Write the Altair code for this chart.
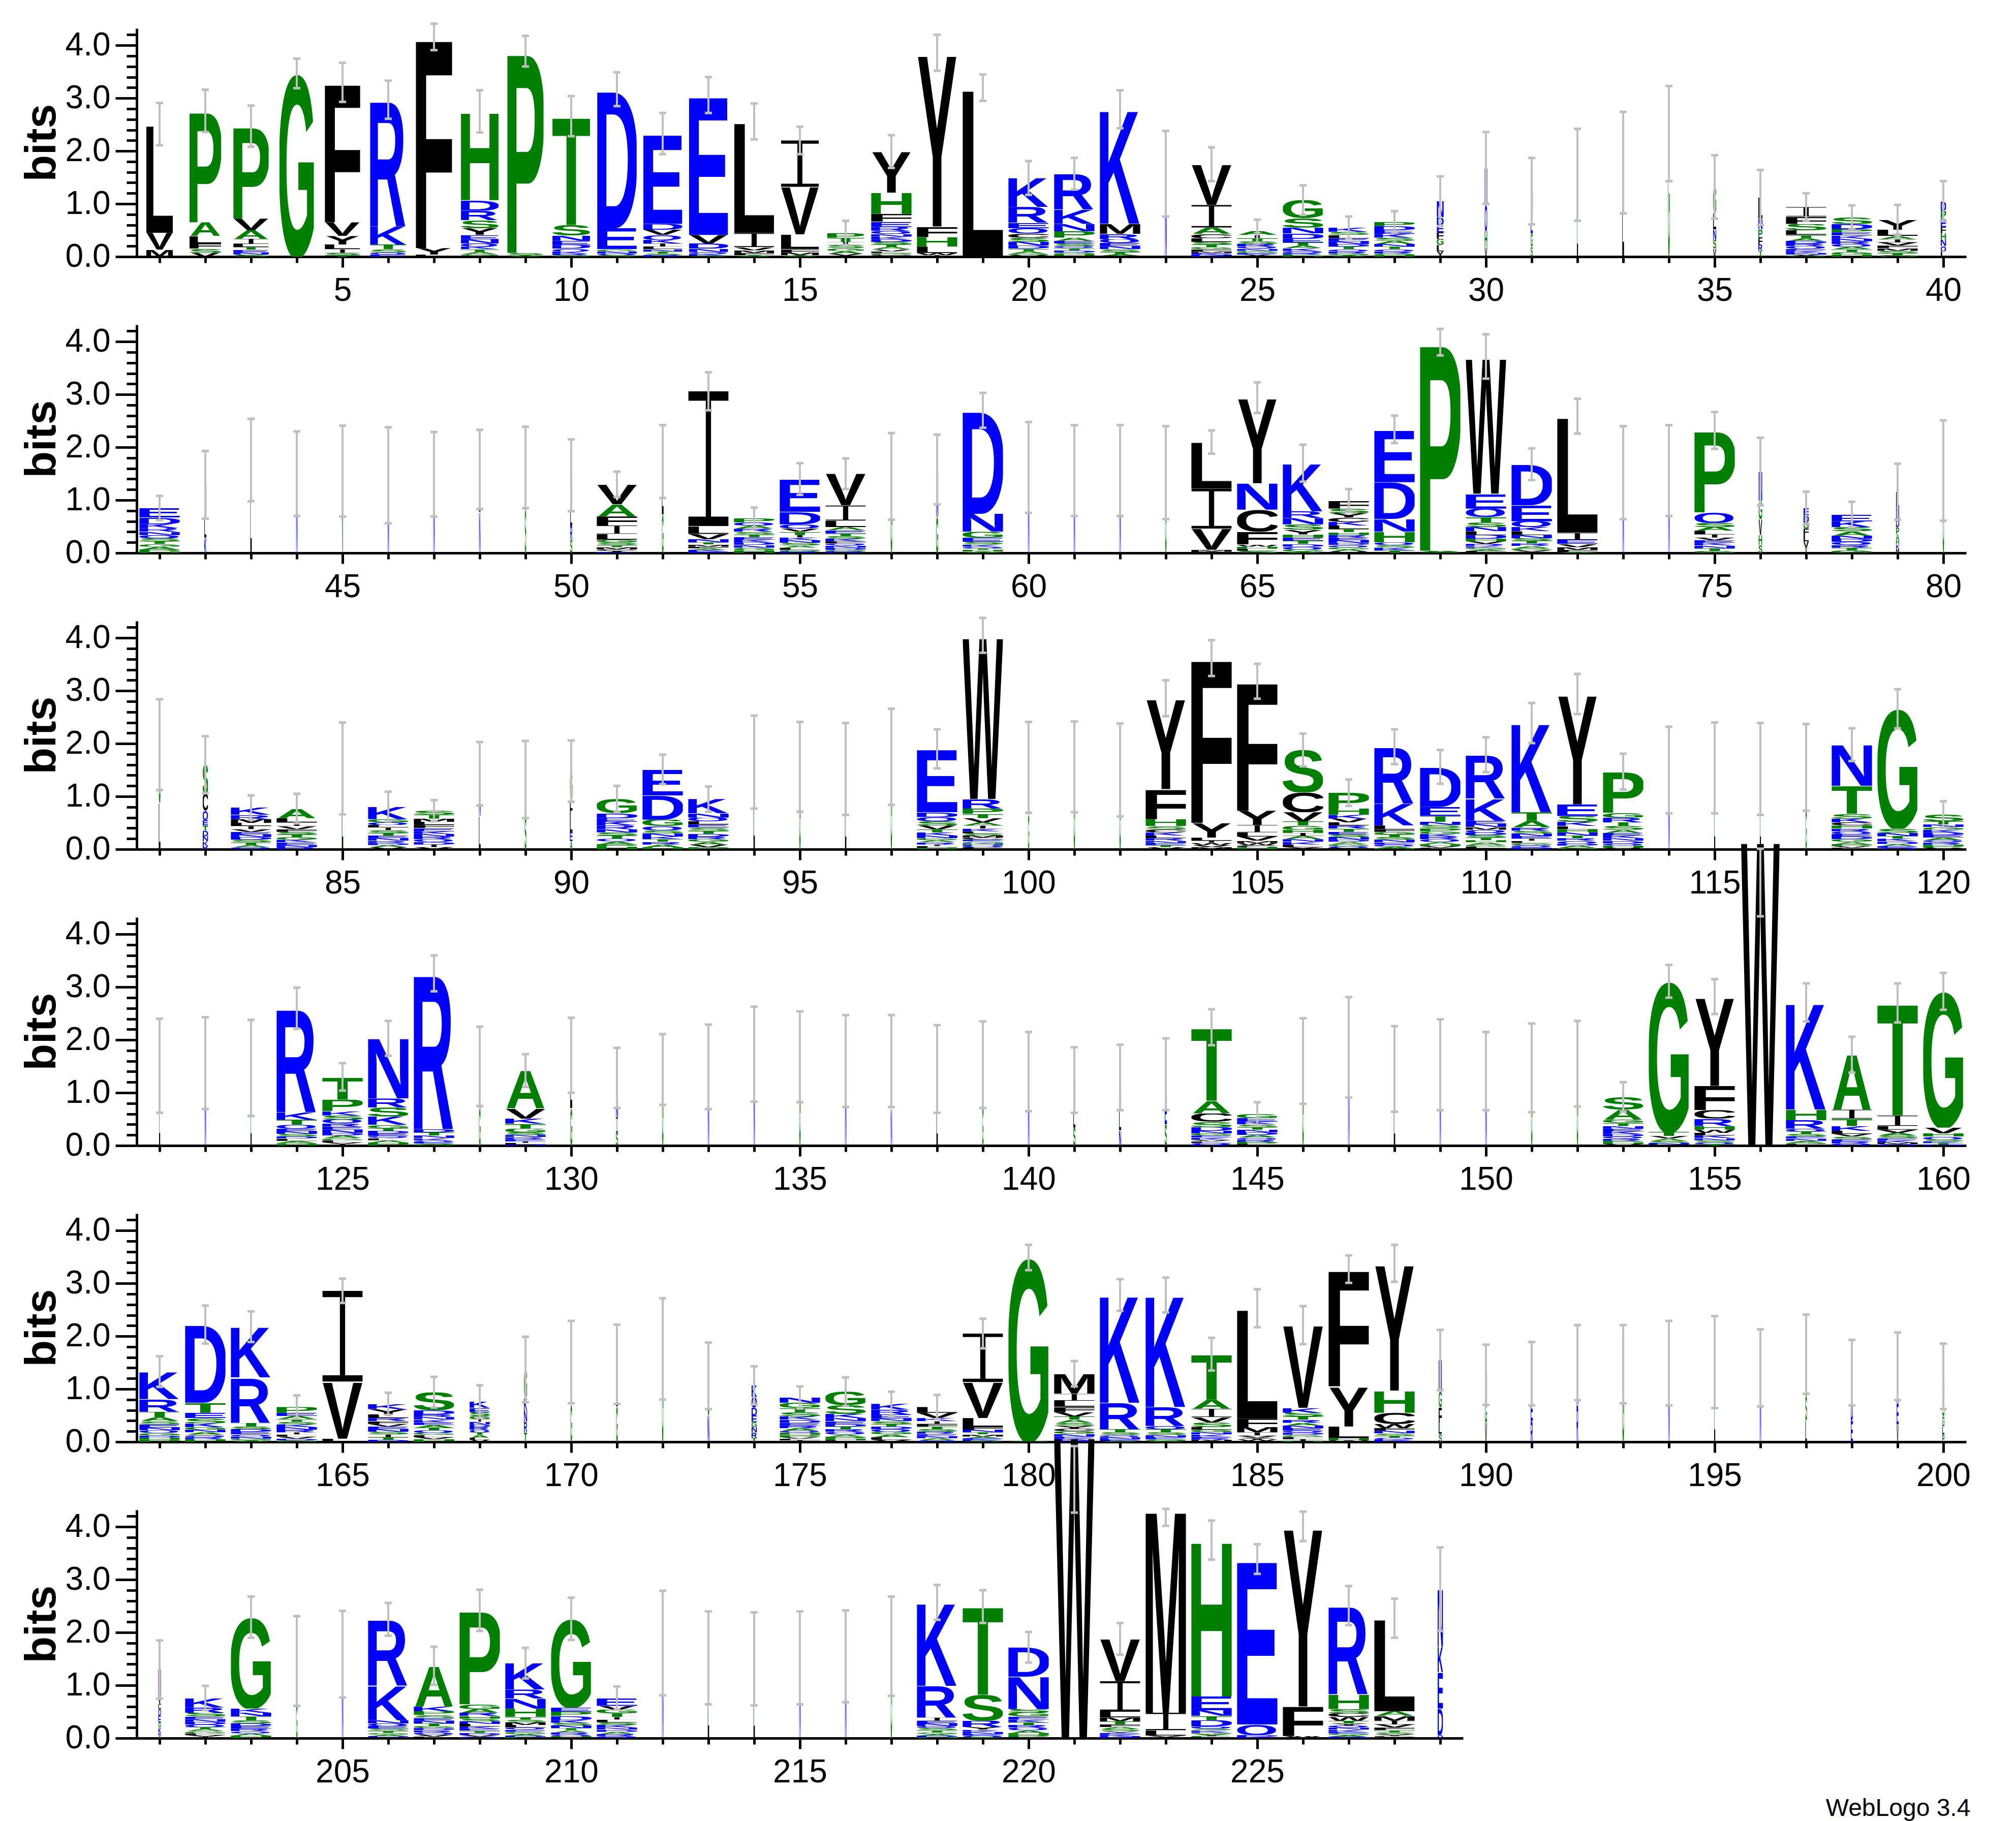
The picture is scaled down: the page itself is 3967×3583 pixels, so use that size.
import altair as alt
import pandas as pd
from urllib.parse import quote

# ---------------- data read from the reference logo ----------------
# each entry: letters of one column, top to bottom, with their heights in bits
STACKS_1 = [
    "L2.06 V.32 M.13", "P2.11 A.26 L.14 F.1 S.08 V.07", "P1.75 V.22 A.16 I.1 L.06 T.05 E.05 N.04 S.04",
    "G3.47", "F2.65 V.26 Y.16 L.09 I.07 S.04 T.03", "R2.4 K.34 T.09 S.06 Q.04 E.04", "F4.0 Y.12 L.04",
    "H1.68 D.2 R.18 S.15 Y.13 E.08 N.08 Q.06 K.05 T.05 A.04 G.03 V.02", "P3.82 S.04 A.03",
    "T2.06 S.2 N.1 E.08 D.07 Q.05 K.04 R.03 G.03", "D2.63 E.4 G.04 N.04 Q.03 S.03",
    "E1.71 D.11 V.1 Q.09 K.07 I.06 L.05 N.04 T.04 S.03 R.03", "E2.65 V.16 D.1 N.06 Q.04 K.03 S.02",
    "L2.11 I.27 V.06 M.05 F.04 A.03", "I.88 V.9 L.28 F.06 M.05 A.03", "P.09 T.08 I.06 S.06 G.05 A.05 V.04 L.02",
    "Y.78 H.4 F.15 E.1 R.07 Q.06 N.05 K.05 D.05 S.05 T.05 A.04 V.04 L.03 G.03 C.02 W.02",
    "Y3.29 F.2 H.18 L.12 W.04 I.03", "L3.2", "K.55 R.3 E.1 Q.1 C.08 S.08 N.07 D.06 T.05 A.04 G.03 V.03",
    "R.68 K.27 N.14 P.12 A.06 E.05 S.05 Q.04 T.04 D.04 G.03 H.03 I.02",
    "K2.17 M.19 R.1 Q.07 E.06 N.06 S.05 T.04 A.03 L.02", "N1.57",
    "V.77 I.43 A.12 C.08 L.07 S.05 T.05 G.04 F.04 M.03 E.03 N.02 K.02",
    "A.07 I.06 T.06 S.05 R.05 Q.04 N.04 G.04 E.03 V.02 L.02",
    "G.34 S.18 N.11 D.1 E.07 T.06 A.05 K.05 Q.04 R.03 P.02 H.02",
    "K.08 S.06 L.06 E.06 N.05 D.05 T.05 Q.04 R.04 G.03 A.03",
    "P.08 D.08 E.07 K.07 S.06 A.06 N.05 T.05 Q.04 R.04 G.03 H.03",
    "N.3 D.15 E.14 F.12 G.12 L.12 Y.1", "N.7 Q.5 H.3 V.18", "N.45 E.35 G.25 S.19", "L1.55", "L1.78",
    "G2.33", "G.5 L.3 N.2 S.17 V.15", "L.4 N.2 P.15 F.14 R.12 T.11",
    "I.18 F.14 S.12 L.09 T.06 A.05 D.05 R.05 Q.05 E.04 K.04 N.03 V.02 G.02",
    "S.12 D.1 P.06 E.06 K.06 N.05 R.05 Q.05 A.05 T.05 G.05 H.04",
    "Y.19 L.12 A.06 I.06 V.06 F.05 M.05 S.04 T.04 G.03", "D.18 P.16 E.15 F.12 H.12 N.12 Q.1 L.1",
]
STACKS_2 = [
    "E.18 D.13 K.07 R.07 N.06 Q.06 S.06 T.05 G.05 A.05 P.04 H.03", "N.6 L.4 K.29", "L1.76", "N1.5",
    "K1.55", "N1.47", "N1.49", "L.8 N.78", "L.8 S.82", "G.6 L.35 R.27 S.25",
    "V.38 A.23 F.17 I.16 L.11 G.05 S.05 T.04 M.04 C.03 Y.02 K.02", "L1.0 G.73",
    "I2.55 L.15 V.1 N.06 T.04 M.04 F.03 A.03 K.03 E.03",
    "P.08 Q.06 A.06 R.06 S.05 T.05 E.05 K.05 D.05 N.05 G.05 H.05",
    "E.62 D.24 Q.08 V.06 T.06 I.05 K.05 N.05 S.05 A.04 L.04 G.03 R.03",
    "V.6 I.29 L.12 A.06 E.06 T.05 S.05 K.05 F.04 Q.04 N.04 D.04 G.03 R.03", "G1.45", "N.9 G.68",
    "D1.96 N.34 G.11 E.08 S.05 K.04 Q.03 T.03 H.03 A.03", "N1.62", "N1.56", "N1.56", "G1.52",
    "L.88 I.76 V.4 M.03 F.03", "Y1.62 N.5 C.42 F.24 W.04 H.04 L.04 S.04",
    "K.91 R.13 N.12 S.1 Y.09 H.06 E.06 T.06 D.05 Q.05 G.04 A.03",
    "F.15 S.09 Y.08 C.08 K.07 L.07 T.06 H.05 R.05 E.05 N.05 D.04 Q.04 G.04 A.04 V.03",
    "E1.0 D.7 N.24 H.2 Q.05 S.05 K.05 T.05", "P3.95 A.02 S.02",
    "W2.6 E.28 Q.16 T.1 S.09 N.08 L.07 D.07 H.05 V.05 R.04 K.03 G.03 A.03 F.02 Y.02",
    "D.78 E.3 Q.11 K.08 L.07 N.06 S.05 T.05 R.05 A.04 G.04 V.03 I.02",
    "L2.21 I.13 E.08 V.06 M.05 F.04 A.02", "N1.52", "N1.56",
    "P1.55 Q.2 S.08 A.07 L.07 I.06 V.05 E.05 K.05 N.05 T.05 G.04", "N.55 G.35 V.3 H.19 S.15",
    "E.14 D.13 G.12 F.12 L.12 V.12 I.1", "E.13 K.11 S.08 A.08 N.06 D.06 Q.06 R.05 T.05 G.05",
    "L.3 N.22 D.15 P.14 A.1 H.09 K.08 M.08", "G1.56",
]
STACKS_3 = [
    "G1.1 L.88", "S.55 C.32 Q.18 E.1 T.1 D.1 N.1 K.08 R.07",
    "K.14 R.08 M.07 L.06 I.06 V.05 E.05 N.05 D.05 S.05 T.05 A.04 Q.04",
    "A.18 L.08 I.07 V.06 F.05 S.05 T.05 G.05 K.05 E.05 N.04 R.04", "L1.53",
    "K.24 G.06 Q.05 L.05 I.05 S.05 T.05 E.05 N.05 R.04 D.04 A.04 V.04",
    "S.08 T.07 M.06 L.06 F.06 E.06 K.05 N.05 R.05 Q.05 D.05 I.05 V.04", "N.8 L.63", "L.7 S.62",
    "G.55 F.3 L.3 E.18 A.15", "G.27 D.09 E.07 K.07 R.07 N.06 S.06 T.06 Q.05 A.05 P.05 H.05",
    "E.49 D.46 G.12 Q.08 S.06 N.06 K.05 T.05 R.05 A.05 H.04",
    "K.27 N.08 Q.07 L.06 E.06 S.06 T.06 D.05 R.05 G.05 A.05 V.05 P.04", "L1.65", "G1.56", "L1.52",
    "G1.75", "E1.2 D.09 Q.08 S.08 V.07 T.06 K.06 N.05 G.04 A.04 R.04 I.03 L.03 H.03",
    "W3.1 R.18 P.1 T.08 V.08 A.06 I.06 K.05 L.04 S.04 M.04 C.04 E.03 G.03 N.02 H.02 D.02 Q.02 F.02 Y.02",
    "N.9 G.65", "G1.56", "G1.5", "Y1.72 F.57 H.13 S.06 C.06 K.06 L.05 R.05 N.04 E.04 T.04 V.04",
    "F3.12 Y.28 L.06 I.04 W.04 V.04 M.04", "F2.45 Y.27 I.14 L.08 V.08 M.04 W.04 C.04 H.04",
    "S.8 C.38 V.17 T.08 G.08 H.06 I.06 A.06 N.05 K.05 L.05 Y.04",
    "P.3 H.12 K.07 V.07 L.06 R.06 T.06 E.05 S.05 N.05 D.04 A.04 G.04 Q.03 F.03",
    "R1.08 K.41 L.07 F.05 G.05 T.05 S.05 N.05 E.04 Q.04 A.03 H.02",
    "D.76 E.17 T.11 N.06 S.06 P.06 G.05 K.05 R.05 Q.05 A.04 H.04 V.03 L.03",
    "R.83 K.42 E.06 N.06 M.05 Q.05 D.05 S.05 T.05 H.04 A.04 G.04 L.03 V.02",
    "K1.69 T.16 A.13 R.06 S.05 N.05 E.05 I.04 L.04 G.04 Q.04 D.04",
    "Y2.09 E.22 S.11 K.08 L.06 H.06 N.06 T.05 R.05 Q.05 D.04 A.04 G.03",
    "P.78 G.09 R.09 T.07 S.07 A.06 E.05 K.05 N.05 D.05 Q.04 H.04 V.03", "N1.5", "L1.54", "L1.52",
    "N.8 G.75", "N.78 T.53 S.09 K.07 C.06 H.06 R.05 Q.05 E.05 D.05 G.05 A.04 P.04 V.03 L.03",
    "G2.27 S.08 N.06 T.05 K.05 D.05 A.04 E.03 Q.03",
    "S.13 T.06 N.05 G.05 K.05 D.05 E.05 A.05 Q.04 R.04 H.03 P.03 V.03",
]
STACKS_4 = [
    "L1.51", "N1.56", "L1.47", "R1.97 K.14 T.1 Q.07 E.05 N.05 S.05 D.04 L.04 A.03 G.03 H.03",
    "T.43 P.22 K.08 S.08 Q.07 R.06 E.06 N.06 D.05 A.05 G.04 L.04 V.03 I.03",
    "N1.14 R.17 S.17 K.16 G.06 T.05 D.05 E.05 Q.04 L.04 A.04 H.03 P.03",
    "R2.95 D.06 T.06 N.05 K.04 Q.03 E.03 S.02 G.02", "N.8 G.7",
    "A.72 V.19 K.1 T.09 G.07 S.05 N.04 R.04 E.04 I.03 L.03 D.02", "L1.0 G.71", "L.45 N.3 I.28 S.25",
    "G1.44", "N1.49", "N1.73", "G1.68", "N1.6", "G.9 N.7", "L1.45", "N.8 G.73", "N1.4",
    "N.5 L.4 S.34", "G.6 L.4 N.29", "L.5 E.45 S.4",
    "T1.39 A.24 C.16 S.1 D.07 N.05 G.04 E.04 K.04 V.03 L.03 Q.03 R.02",
    "G.08 E.07 K.05 S.05 T.05 N.05 D.05 A.05 Q.04 R.04 P.04 L.03", "G1.6", "N1.86", "L1.45",
    "N1.53", "N1.41", "G1.47", "G1.55", "S.24 A.19 G.06 T.06 N.05 E.05 K.05 D.05 Q.04 R.04 P.03 H.03 V.03",
    "G2.85 T.08 V.05 A.04 S.04 N.03 C.02", "Y1.69 F.46 C.16 R.14 H.07 W.06 L.05 K.05 N.04 S.04 Q.03 T.03",
    "W5.85", "K2.03 H.2 R.16 Q.05 T.05 S.05 E.04 N.04 A.03 G.03 L.03",
    "A1.04 I.17 T.14 K.09 L.06 V.05 S.05 E.04 R.04 Q.04", "T2.13 I.2 L.07 V.06 A.05 S.05 E.04 K.04 M.03 Q.03",
    "G2.58 V.11 H.06 Q.05 S.04 K.03 T.03 N.02",
]
STACKS_5 = [
    "K.52 R.24 T.11 A.07 S.06 E.06 N.05 Q.05 G.05 D.04 H.04 P.04",
    "D1.48 T.19 E.1 S.1 K.07 G.05 N.05 A.05 Q.04 R.04 H.03 P.02",
    "K.96 R.86 T.07 S.05 D.05 E.05 Q.04 N.04 G.03 A.03",
    "P.11 E.06 A.06 T.05 S.05 K.05 N.05 R.05 I.04 L.04 V.04 D.03 G.03", "I1.72 V1.08 L.06",
    "K.1 Y.1 L.07 R.06 F.05 V.05 E.05 N.05 S.05 I.05 T.05 D.04",
    "S.34 D.08 R.05 N.05 K.05 E.05 A.05 T.05 Q.05 G.04 L.04 V.04 H.03 P.02",
    "K.12 E.08 S.07 G.06 I.05 N.05 D.05 R.05 Q.05 T.05 A.05 L.04 V.04", "G.55 K.22 N.22 R.2 T.18",
    "N.8 G.71", "L.8 G.67", "G1.76", "G.75 N.5", "K.22 Q.2 D.15 E.12 G.1 N.1 R.1 T.08",
    "N.1 G.1 T.08 S.08 K.06 D.06 E.05 R.05 A.05 Q.04 H.04 P.04 V.03 L.03 I.03",
    "G.26 S.16 K.08 N.06 E.05 D.05 T.05 R.05 Q.05 A.04 P.04 H.03 L.03",
    "K.11 R.09 E.08 N.05 S.05 T.05 D.05 Q.05 G.05 A.05 L.05 V.04",
    "L.11 V.1 K.06 I.05 F.05 T.05 S.05 R.04 E.04 N.04 A.04 Q.03",
    "I.92 V.68 L.17 F.05 N.05 T.04 M.04 A.03 E.03 K.02 S.02", "G3.47 S.02",
    "M.38 I.13 L.12 F.1 V.08 T.06 A.06 S.06 Y.05 C.05 G.05 N.05 E.04 K.03 R.03",
    "K2.04 R.5 T.06 S.05 Q.04 N.04 E.03 A.02", "K2.12 R.36 Q.06 T.06 S.05 N.04 E.04 G.03 A.02",
    "T.86 A.17 I.16 V.1 S.09 L.05 G.05 N.04 K.04 E.03 R.03 M.02 F.02",
    "L2.09 F.16 M.1 I.06 V.04 Y.03 W.03 C.02",
    "V1.57 K.09 S.07 T.06 R.06 A.05 N.05 E.05 Q.04 D.04 G.04 L.04 I.03 H.02",
    "F2.22 Y.76 L.22 H.04 W.03", "Y2.41 H.42 C.21 W.08 F.05 N.05 S.04 T.04 Q.03 K.03 R.02",
    "N.6 G.3 F.3 L.2 S.15", "N.5 G.4 V.37", "G.5 E.4 R.39", "N.8 R.7", "G1.47", "N1.49", "L1.51",
    "N1.4", "G.8 S.46 L.4", "G.5 D.41 E.4", "N.7 E.4 V.33", "D.45 S.3 G.2 L.15 P.14",
]
STACKS_6 = [
    "N.5 V.14 C.12 D.12 E.12 G.1 K.1 R.05 T.05",
    "K.18 R.1 S.07 E.05 N.05 D.05 Q.05 T.04 A.04 G.04 L.03 V.03 I.03",
    "G1.73 K.08 N.07 T.07 S.06 D.05 E.05 R.05 Q.04 A.04 H.03 P.02", "L.8 G.66", "N1.59",
    "R1.26 K.65 N.06 Q.05 E.05 S.04 T.04 G.03 A.03 D.02 L.02",
    "A.77 K.09 P.07 S.06 E.05 N.05 T.05 G.04 D.04 R.04 Q.04 V.04 L.03",
    "P1.78 G.09 A.07 R.06 H.05 S.05 N.05 L.05 K.04 E.04 T.04 D.04 V.03 Q.03",
    "K.5 R.17 N.19 H.16 T.05 S.05 M.05 L.05 Q.04 E.04 G.04 A.03 D.03 P.02",
    "G1.68 E.08 P.08 D.08 K.05 S.05 N.05 T.04 A.04 R.04 Q.03 H.02 V.02",
    "E.15 V.07 G.07 T.07 I.05 L.05 S.05 K.05 N.04 D.04 A.04 R.04 Q.04",
    "N1.8", "L1.52", "L1.5", "N1.52", "N1.55", "G1.74",
    "K1.58 R.6 I.06 E.05 N.05 Q.04 S.04 T.04 G.03 A.03 D.03 H.02",
    "T1.67 S.49 R.12 Y.05 K.04 N.04 E.03 Q.03 A.02",
    "D.56 N.61 S.07 G.07 E.06 K.05 T.05 R.05 Q.05 A.05 H.04 P.04 Y.02", "W5.8",
    "V.8 I.58 L.11 M.07 T.06 F.05 A.04 S.04 Y.03 E.03 K.03 N.02 R.02", "M3.86 I.33 L.1 V.03 F.02",
    "H2.96 E.26 N.11 T.08 D.12 Q.04 S.03 K.03 R.02 G.02 A.02 Y.02 P.02 F.02", "E3.13 Q.2 D.03 K.03",
    "Y3.41 F.56 W.02 L.02", "R1.68 H.28 S.08 C.07 W.07 T.05 Y.04 Q.04 N.04 K.04 E.03 G.03 A.03 D.03",
    "L1.76 A.09 M.09 I.07 V.06 F.05 T.04 S.04 Y.03 C.02 W.02", "N1.09 K.48 E.69 D.5 Q.06",
]
# half-length of the error bar of each column (bits)
ERR_1 = [.40, .40, .39, .28, .37, .36, .25, .40, .29, .38, .32, .39, .34, .34, .26, .23, .31, .34, .25, .32,
         .30, .36, .81, .32, .22, .28, .21, .20, .47, .68, .63, .87, .96, .90, .60, .52, .26, .23, .28, .38]
ERR_2 = [.23, .64, .78, .80, .86, .91, .80, .75, .77, .68, .24, .69, .36, .20, .30, .29, .82, .66, .33, .86,
         .86, .86, .88, .22, .29, .35, .22, .26, .25, .42, .30, .33, .88, .86, .35, .64, .31, .24, .53, .95]
ERR_3 = [.86, .54, .23, .28, .87, .28, .20, .60, .73, .58, .25, .28, .24, .88, .85, .87, .91, .37, .33, .86,
         .86, .88, .34, .34, .33, .31, .25, .33, .32, .33, .38, .38, .34, .82, .86, .87, .82, .31, .37, .25]
ERR_4 = [.89, .87, .91, .39, .26, .33, .34, .75, .31, .71, .57, .67, .80, .90, .86, .87, .87, .83, .82, .75,
         .62, .62, .68, .34, .22, .81, .95, .81, .86, .74, .84, .81, .28, .31, .33, .64, .36, .34, .37, .35]
ERR_5 = [.29, .36, .29, .22, .23, .21, .29, .31, .62, .78, .75, .96, .63, .36, .21, .27, .23, .23, .28, .24,
         .24, .30, .33, .31, .36, .36, .26, .35, .57, .57, .60, .71, .74, .80, .87, .73, .75, .62, .64, .62]
ERR_6 = [.55, .23, .39, .85, .82, .31, .36, .39, .29, .40, .22, .99, .88, .88, .88, .87, .94, .33, .31, .29,
         .63, .30, .16, .37, .28, .28, .37, .37, .79]
# error-bar centres that differ from the column top
ERR_MID = {156: 4.98, 221: 4.90, 223: 4.18}
# stack width (fraction of a position) where it differs from the default
WIDTH = {1: .58, 2: .69, 3: .77, 4: .76, 5: .77, 6: .79, 7: .79, 8: .82, 9: .79, 10: .82, 11: .86, 12: .85,
         13: .85, 14: .87, 15: .83, 16: .8, 23: .04, 29: .15, 30: .06, 31: .05, 32: .03, 33: .04, 34: .04,
         35: .07, 36: .09, 40: .12, 42: .05, 43: .035, 44: .035, 45: .03, 46: .035, 47: .035, 48: .035,
         49: .035, 50: .05, 52: .04, 57: .04, 58: .05, 60: .035, 61: .035, 62: .035, 63: .035, 73: .035,
         74: .035, 76: .08, 77: .12, 79: .07, 80: .035, 81: .04, 82: .12, 85: .035, 88: .04, 89: .04,
         90: .06, 94: .035, 95: .035, 96: .035, 97: .035, 100: .035, 101: .035, 102: .035, 114: .035,
         115: .03, 116: .03, 117: .035, 121: .03, 122: .035, 123: .03, 128: .04, 130: .045, 131: .05,
         132: .035, 133: .035, 134: .035, 135: .035, 136: .035, 137: .035, 138: .035, 139: .035, 140: .035,
         141: .05, 142: .05, 143: .05, 146: .035, 147: .035, 148: .035, 149: .035, 150: .035, 151: .035,
         152: .035, 156: .84, 168: .44, 169: .07, 170: .04, 171: .04, 172: .035, 173: .04, 174: .12,
         189: .07, 190: .05, 191: .05, 192: .04, 193: .04, 194: .035, 195: .03, 196: .035, 197: .04,
         198: .045, 199: .045, 200: .05, 201: .06, 204: .035, 205: .035, 212: .035, 213: .035, 214: .035,
         215: .035, 216: .035, 217: .035, 229: .12}
DEFAULT_WIDTH = 0.88

BLUE, GREEN, BLACK, GREY = "#0000FF", "#008000", "#000000", "#BFBFBF"
GROUPS = {"RKDENQ": BLUE, "SGHTAP": GREEN, "YVMCLFIW": BLACK}
# ink extent of each bold glyph (em units, Arial/Liberation Sans Bold)
INK = {"A": (0.0, .722), "C": (.047, .671), "D": (.073, .669), "E": (.073, .617), "F": (.073, .562),
       "G": (.048, .723), "H": (.073, .649), "K": (.073, .726), "L": (.078, .58), "M": (.071, .762),
       "N": (.075, .646), "P": (.073, .622), "Q": (.042, .759), "R": (.073, .722), "S": (.034, .627),
       "T": (.021, .589), "V": (0.0, .668), "W": (.004, .94), "Y": (0.0, .668)}
CAP = 70.5


def glyph_url(ch):
    color = next(c for k, c in GROUPS.items() if ch in k)
    if ch == "I":
        svg = ("<svg xmlns='http://www.w3.org/2000/svg' width='100' height='100' viewBox='0 0 100 100' "
               "preserveAspectRatio='none'><path fill='%s' d='M0 0H100V7H56.5V93H100V100H0V93H43.5V7H0Z'/>"
               "</svg>" % color)
    else:
        x0, x1 = INK[ch]
        w = (x1 - x0) * 100
        svg = ("<svg xmlns='http://www.w3.org/2000/svg' width='%.1f' height='%.1f' viewBox='%.1f %.1f %.1f %.1f' "
               "preserveAspectRatio='none'><text x='0' y='0' font-family='Liberation Sans, Arial, sans-serif' "
               "font-weight='bold' font-size='100' fill='%s'>%s</text></svg>"
               % (w, CAP, x0 * 100, -CAP, w, CAP, color, ch))
    return "data:image/svg+xml;charset=utf-8," + quote(svg)


glyphs = pd.DataFrame({"aa": list("ACDEFGHIKLMNPQRSTVWY")})
glyphs["url"] = glyphs["aa"].map(glyph_url)

ROWS = [(STACKS_1, ERR_1), (STACKS_2, ERR_2), (STACKS_3, ERR_3),
        (STACKS_4, ERR_4), (STACKS_5, ERR_5), (STACKS_6, ERR_6)]

FONT = "Liberation Sans"
AX = dict(domainColor=BLACK, domainWidth=5, tickColor=BLACK, tickWidth=5, grid=False,
          labelFont=FONT, labelFontSize=64, labelColor=BLACK,
          labelOverlap=False, labelFlush=False, labelBound=False)


def panel(r, stacks, errs):
    first = 40 * r + 1
    last = first + len(stacks) - 1
    letters, bars, caps = [], [], []
    for i, s in enumerate(stacks):
        pos = first + i
        items = [(t[0], float(t[1:])) for t in s.split()]
        w = WIDTH.get(pos, DEFAULT_WIDTH)
        y = 0.0
        for ch, h in reversed(items):
            letters.append({"aa": ch, "x0": pos - w / 2, "x1": pos + w / 2, "y0": y, "y1": y + h})
            y += h
        mid = ERR_MID.get(pos, y)
        lo, hi = mid - errs[i], mid + errs[i]
        bars.append({"pos": pos, "lo": lo, "hi": hi})
        caps += [{"pos": pos, "v": lo}, {"pos": pos, "v": hi}]

    xs = alt.Scale(domain=[first - 0.5, last + 0.5], nice=False, zero=False)
    ys = alt.Scale(domain=[0, 4.32], nice=False, zero=True)
    x_major = alt.Axis(values=[v for v in range(first, last + 1) if v % 5 == 0], format="d",
                       title=None, orient="bottom", tickSize=21, labelPadding=14, **AX)
    x_minor = alt.Axis(values=list(range(first, last + 1)), title=None, orient="bottom",
                       tickSize=12, labels=False, domain=False, tickColor=BLACK, tickWidth=5, grid=False)
    y_major = alt.Axis(values=[0, 1, 2, 3, 4], format=".1f", title="bits", orient="left",
                       tickSize=42, labelPadding=10, titleFont=FONT, titleFontSize=86,
                       titleFontWeight="bold", titleColor=BLACK, titlePadding=2, **AX)
    y_minor = alt.Axis(values=[round(0.2 * k, 1) for k in range(22)], title=None, orient="left",
                       tickSize=20, labels=False, domain=False, tickColor=BLACK, tickWidth=5, grid=False)

    img = alt.Chart(pd.DataFrame(letters)).transform_lookup(
        lookup="aa", from_=alt.LookupData(glyphs, "aa", ["url"])
    ).mark_image(aspect=False).encode(
        x=alt.X("x0:Q", scale=xs, axis=x_major), x2="x1:Q",
        y=alt.Y("y0:Q", scale=ys, axis=y_major), y2="y1:Q",
        url="url:N")
    rule = alt.Chart(pd.DataFrame(bars)).mark_rule(color=GREY, strokeWidth=4).encode(
        x=alt.X("pos:Q", scale=xs, axis=x_minor),
        y=alt.Y("lo:Q", scale=ys, axis=y_minor), y2="hi:Q")
    cap = alt.Chart(pd.DataFrame(caps)).mark_tick(
        orient="horizontal", size=14, thickness=5, color=GREY, opacity=1).encode(
        x=alt.X("pos:Q", scale=xs, axis=None),
        y=alt.Y("v:Q", scale=ys, axis=None))
    return alt.layer(img, rule, cap).resolve_axis(x="independent", y="independent").properties(
        width=(last - first + 1) * 90, height=449)


chart = alt.vconcat(
    *[panel(r, s, e) for r, (s, e) in enumerate(ROWS)], spacing=134, bounds="flush"
).properties(
    padding={"left": 31, "top": 36, "right": 40, "bottom": 10},
    background="white",
    title=alt.TitleParams("WebLogo 3.4", orient="bottom", anchor="end", fontSize=48,
                          font=FONT, fontWeight="normal", color=BLACK, offset=16),
).configure_view(stroke=None)

chart.save("out.html", embed_options={"renderer": "svg", "actions": False})
